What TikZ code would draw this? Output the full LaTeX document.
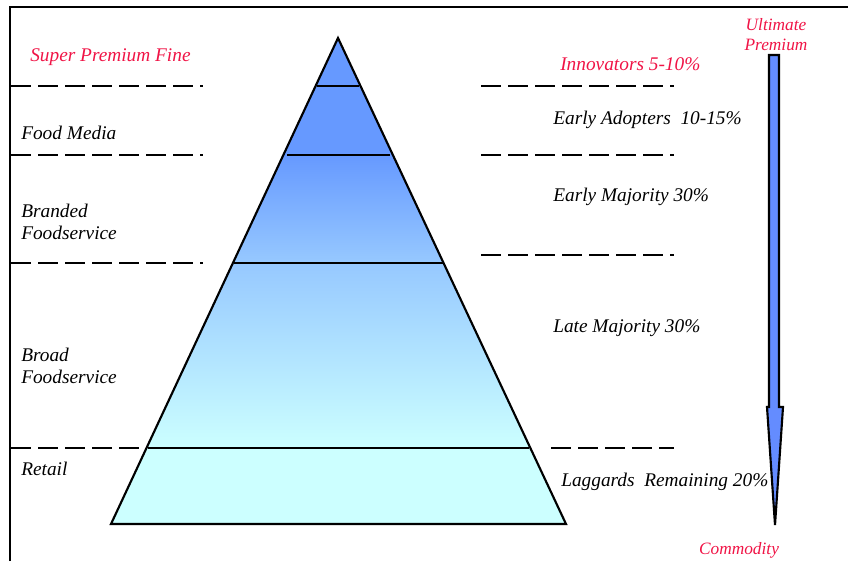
\documentclass[tikz,border=0pt]{standalone}
\usepackage{fontspec}
\setmainfont{Liberation Serif}
\usetikzlibrary{positioning}

\definecolor{pyrblue}{RGB}{102,153,255}
\definecolor{pyrmid}{RGB}{150,200,255}
\definecolor{pyrcyan}{RGB}{204,255,255}
\definecolor{arrowblue}{RGB}{100,140,255}
\definecolor{hotred}{RGB}{240,20,70}

\pgfdeclareverticalshading{pyramidshade}{100bp}{%
  color(0bp)=(pyrcyan); color(32.8bp)=(pyrcyan);
  color(52bp)=(pyrmid); color(63bp)=(pyrblue); color(100bp)=(pyrblue)}

\begin{document}
\begin{tikzpicture}[
    x=0.75pt, y=-0.75pt,
    font=\fontsize{14.5}{16.5}\selectfont\itshape,
    lbl/.style={anchor=base west, inner sep=0pt, align=left},
    red lbl/.style={lbl, text=hotred},
    divider/.style={line width=1.6pt, dash pattern=on 15pt off 5.25pt},
    tier/.style={line width=1.6pt},
  ]
  \useasboundingbox (0,0) rectangle (848,561);

  % ============================================================
  % Frame
  % ============================================================
  \draw[line width=1.2pt] (10,561) -- (10,7) -- (848,7);

  % ============================================================
  % Pyramid
  % ============================================================
  \coordinate (apex) at (338,38);
  \coordinate (baseL) at (111,524);
  \coordinate (baseR) at (566,524);
  \shade[shading=pyramidshade] (apex) -- (baseR) -- (baseL) -- cycle;

  % tier lines
  \draw[tier] (317,86) -- (359,86);
  \draw[tier] (287,155) -- (390,155);
  \draw[tier] (234,263) -- (443,263);
  \draw[tier] (148,448) -- (529,448);

  \draw[line width=1.6pt, line join=miter] (apex) -- (baseR) -- (baseL) -- cycle;

  % ============================================================
  % Dashed dividers
  % ============================================================
  \draw[divider] (11,86) -- (203,86);
  \draw[divider] (11,155) -- (203,155);
  \draw[divider] (11,263) -- (203,263);
  \draw[divider] (11,448) -- (140,448);

  \draw[divider] (481,86) -- (674,86);
  \draw[divider] (481,155) -- (674,155);
  \draw[divider] (481,255) -- (674,255);
  \draw[divider] (551,448) -- (674,448);

  % ============================================================
  % Channel labels (left)
  % ============================================================
  \node[red lbl] (fine) at (30,61) {Super Premium Fine};
  \node[lbl] (media) at (21,139) {Food Media};
  \node[lbl] (branded) at (21,239) {Branded\\Foodservice};
  \node[lbl] (broad) at (21,383) {Broad\\Foodservice};
  \node[lbl] (retail) at (21,475) {Retail};

  % ============================================================
  % Adopter labels (right)
  % ============================================================
  \node[red lbl] (innov) at (560,70) {Innovators 5-10\%};
  \node[lbl] (early) at (553,124) {Early Adopters~~10-15\%};
  \node[lbl] (emaj) at (553,201) {Early Majority 30\%};
  \node[lbl] (lmaj) at (553,332) {Late Majority 30\%};
  \node[lbl] (lag) at (561,486) {Laggards~~Remaining 20\%};

  % ============================================================
  % Premium -> commodity arrow
  % ============================================================
  \node[text=hotred, align=center, inner sep=0pt, anchor=base,
        font=\fontsize{13}{15}\selectfont\itshape] (ultimate) at (776,50)
    {Ultimate\\Premium};
  \node[text=hotred, inner sep=0pt, anchor=base,
        font=\fontsize{13}{15}\selectfont\itshape] (commodity) at (739,554)
    {Commodity};

  \draw[line width=1.6pt, fill=arrowblue, line join=miter]
    (769,55) -- (779,55) -- (779,407) -- (783,407) -- (775,525)
    -- (767,407) -- (769,407) -- cycle;

\end{tikzpicture}
\end{document}
